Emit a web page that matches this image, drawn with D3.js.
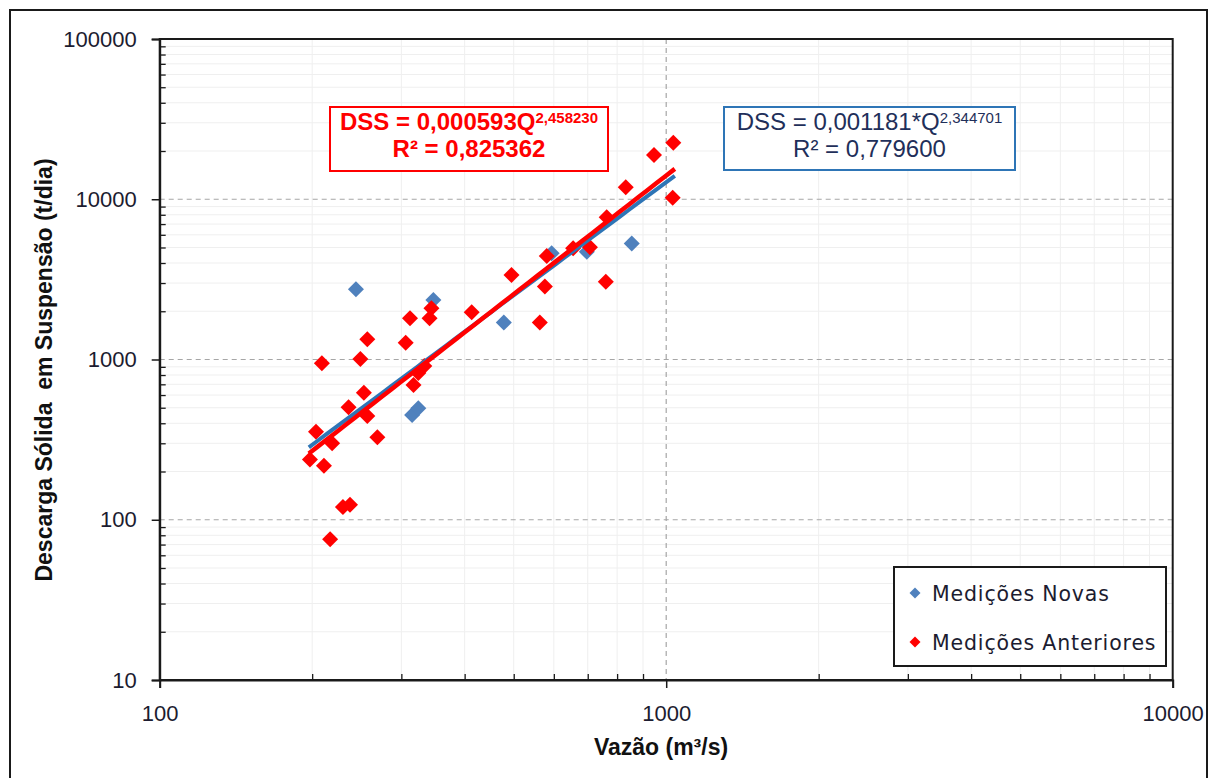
<!DOCTYPE html>
<html>
<head>
<meta charset="utf-8">
<script src="https://cdn.jsdelivr.net/npm/d3@7"></script>
<style>
  html, body { margin: 0; padding: 0; background: #fff; }
  svg { display: block; }
</style>
</head>
<body>
<svg id="chart" width="1217" height="778"></svg>
<script>
// Medições novas (vazão m³/s, descarga sólida t/dia)
const qNovas   = [244, 347, 315, 324, 478, 594, 697, 855];
const dssNovas = [2740, 2350, 450, 496, 1700, 4600, 4700, 5300];

// Medições anteriores
const qAnteriores   = [198, 211, 203.5, 219, 209, 217, 230, 237.5, 236, 253, 257, 269,
                       249, 257, 306, 312, 341, 344, 317, 333, 324, 413, 495, 563,
                       576, 581, 655, 707, 760, 763, 832, 946, 1033, 1030];
const dssAnteriores = [238, 217, 354, 300, 947, 75.5, 120, 124, 503, 620, 444, 327,
                       1007, 1340, 1270, 1810, 1810, 2090, 693, 911, 824, 1970, 3370, 1700,
                       2850, 4420, 4940, 5010, 3060, 7720, 11870, 18900, 22500, 10230];

// Curvas-chave ajustadas (DSS = a·Q^b)
const fitNovas      = { a: 0.001181, b: 2.344701, r2: "0,779600", label: "0,001181*Q", exp: "2,344701" };
const fitAnteriores = { a: 0.000593, b: 2.458230, r2: "0,825362", label: "0,000593Q", exp: "2,458230" };
const fitRange = [197, 1040];

const xTicks = [100, 1000, 10000];
const yTicks = [10, 100, 1000, 10000, 100000];

const seriesNames = ["Medições Novas", "Medições Anteriores"];
const colNovas = "#4f81bd";
const colAnt = "#ff0000";

const svg = d3.select("#chart");
const L = 159.7, R = 1172.7, T = 39, B = 680;

const x = d3.scaleLog().domain([100, 10000]).range([L, R]);
const y = d3.scaleLog().domain([10, 100000]).range([B, T]);

// outer frame
svg.append("rect").attr("x", 10).attr("y", 10).attr("width", 1197).attr("height", 800)
  .attr("fill", "#fff").attr("stroke", "#1a1a1a").attr("stroke-width", 2);

// minor gridlines
const minorX = [], minorY = [];
for (let d = 100; d < 10000; d *= 10) for (let k = 2; k <= 9; k++) minorX.push(d * k);
for (let d = 10; d < 100000; d *= 10) for (let k = 2; k <= 9; k++) minorY.push(d * k);

const grid = svg.append("g");
grid.selectAll(".mx").data(minorX).join("line")
  .attr("x1", d => x(d)).attr("x2", d => x(d)).attr("y1", T).attr("y2", B)
  .attr("stroke", "#efefef").attr("stroke-width", 1);
grid.selectAll(".my").data(minorY).join("line")
  .attr("x1", L).attr("x2", R).attr("y1", d => y(d)).attr("y2", d => y(d))
  .attr("stroke", "#efefef").attr("stroke-width", 1);
// major gridlines (dashed)
grid.selectAll(".Mx").data(xTicks.slice(1, -1)).join("line")
  .attr("x1", d => x(d)).attr("x2", d => x(d)).attr("y1", T).attr("y2", B)
  .attr("stroke", "#a6a6a6").attr("stroke-width", 1.2).attr("stroke-dasharray", "5,4");
grid.selectAll(".My").data(yTicks.slice(1, -1)).join("line")
  .attr("x1", L).attr("x2", R).attr("y1", d => y(d)).attr("y2", d => y(d))
  .attr("stroke", "#a6a6a6").attr("stroke-width", 1.2).attr("stroke-dasharray", "5,4");

// plot frame
svg.append("rect").attr("x", L).attr("y", T).attr("width", R - L).attr("height", B - T)
  .attr("fill", "none").attr("stroke", "#1a1a1a").attr("stroke-width", 2);

// axes: major ticks outward, minor ticks inward
const fmt = d => String(d);
const xAxis = svg.append("g").attr("transform", `translate(0,${B})`)
  .call(d3.axisBottom(x).tickValues(xTicks).tickFormat(fmt).tickSize(8).tickPadding(10));
const yAxis = svg.append("g").attr("transform", `translate(${L},0)`)
  .call(d3.axisLeft(y).tickValues(yTicks).tickFormat(fmt).tickSize(8).tickPadding(15));
[xAxis, yAxis].forEach(g => {
  g.select(".domain").attr("stroke", "#1a1a1a").attr("stroke-width", 2);
  g.selectAll(".tick line").attr("stroke", "#1a1a1a").attr("stroke-width", 1.5);
  g.selectAll("text").attr("font-family", "Liberation Sans, Arial, sans-serif")
    .attr("font-size", 22).attr("fill", "#1c1c30");
});
xAxis.selectAll("text").attr("dy", "1.05em");
svg.append("g").attr("transform", `translate(0,${B})`)
  .call(d3.axisTop(x).tickValues(minorX).tickFormat("").tickSize(6))
  .call(g => { g.select(".domain").remove(); g.selectAll("line").attr("stroke", "#1a1a1a").attr("stroke-width", 1.3); });
svg.append("g").attr("transform", `translate(${L},0)`)
  .call(d3.axisRight(y).tickValues(minorY).tickFormat("").tickSize(6))
  .call(g => { g.select(".domain").remove(); g.selectAll("line").attr("stroke", "#1a1a1a").attr("stroke-width", 1.3); });

// axis titles
svg.append("text").attr("x", 661).attr("y", 755).attr("text-anchor", "middle")
  .attr("font-family", "Liberation Sans, Arial, sans-serif").attr("font-weight", "bold")
  .attr("font-size", 23).attr("fill", "#111").text("Vazão (m³/s)");
svg.append("text").attr("transform", "translate(52,370) rotate(-90)").attr("text-anchor", "middle")
  .attr("font-family", "Liberation Sans, Arial, sans-serif").attr("font-weight", "bold")
  .attr("font-size", 23).attr("fill", "#111").attr("xml:space", "preserve")
  .text("Descarga Sólida  em Suspensão (t/dia)");

// markers
const diamond = r => `M0,${-r}L${r},0L0,${r}L${-r},0Z`;
const novas = qNovas.map((q, i) => ({ q, v: dssNovas[i] }));
const anteriores = qAnteriores.map((q, i) => ({ q, v: dssAnteriores[i] }));

svg.append("g").selectAll("path").data(novas).join("path")
  .attr("d", diamond(8)).attr("transform", d => `translate(${x(d.q)},${y(d.v)})`)
  .attr("fill", colNovas);
svg.append("g").selectAll("path").data(anteriores).join("path")
  .attr("d", diamond(8)).attr("transform", d => `translate(${x(d.q)},${y(d.v)})`)
  .attr("fill", colAnt);

// power-law trendlines
const curve = f => d3.range(0, 41).map(i => {
  const q = fitRange[0] * Math.pow(fitRange[1] / fitRange[0], i / 40);
  return [x(q), y(f.a * Math.pow(q, f.b))];
});
svg.append("path").attr("d", d3.line()(curve(fitNovas)))
  .attr("fill", "none").attr("stroke", "#2e75b6").attr("stroke-width", 4);
svg.append("path").attr("d", d3.line()(curve(fitAnteriores)))
  .attr("fill", "none").attr("stroke", colAnt).attr("stroke-width", 4.5);

// equation boxes
function eqBox(f, box, color, textColor, bold) {
  const g = svg.append("g");
  g.append("rect").attr("x", box.x).attr("y", box.y).attr("width", box.w).attr("height", box.h)
    .attr("fill", "#fff").attr("stroke", color).attr("stroke-width", 2);
  const cx = box.x + box.w / 2;
  const t1 = g.append("text").attr("x", cx).attr("y", box.y + 23).attr("text-anchor", "middle")
    .attr("font-family", "Liberation Sans, Arial, sans-serif")
    .attr("font-weight", bold ? "bold" : "normal").attr("font-size", 24).attr("fill", textColor);
  t1.append("tspan").text("DSS = " + f.label);
  t1.append("tspan").attr("font-size", 15).attr("dy", -7).text(f.exp);
  g.append("text").attr("x", cx).attr("y", box.y + 50).attr("text-anchor", "middle")
    .attr("font-family", "Liberation Sans, Arial, sans-serif")
    .attr("font-weight", bold ? "bold" : "normal").attr("font-size", 24).attr("fill", textColor)
    .text("R² = " + f.r2);
}
eqBox(fitAnteriores, { x: 330, y: 107, w: 278, h: 64 }, "#ff0000", "#ff0000", true);
eqBox(fitNovas, { x: 724, y: 107, w: 291, h: 63 }, "#2e75b6", "#1f2f5a", false);

// legend
const lg = svg.append("g");
lg.append("rect").attr("x", 894).attr("y", 567).attr("width", 272).attr("height", 99)
  .attr("fill", "#fff").attr("stroke", "#1a1a1a").attr("stroke-width", 2);
[colNovas, colAnt].forEach((c, i) => {
  const yy = 593 + i * 49;
  lg.append("path").attr("d", diamond(5.5)).attr("transform", `translate(915,${yy})`).attr("fill", c);
  lg.append("text").attr("x", 932).attr("y", yy + 7.5)
    .attr("font-family", "DejaVu Sans, Verdana, sans-serif").attr("font-size", 20.5)
    .attr("letter-spacing", 0.85).attr("fill", "#1c1c30").text(seriesNames[i]);
});
</script>
</body>
</html>
